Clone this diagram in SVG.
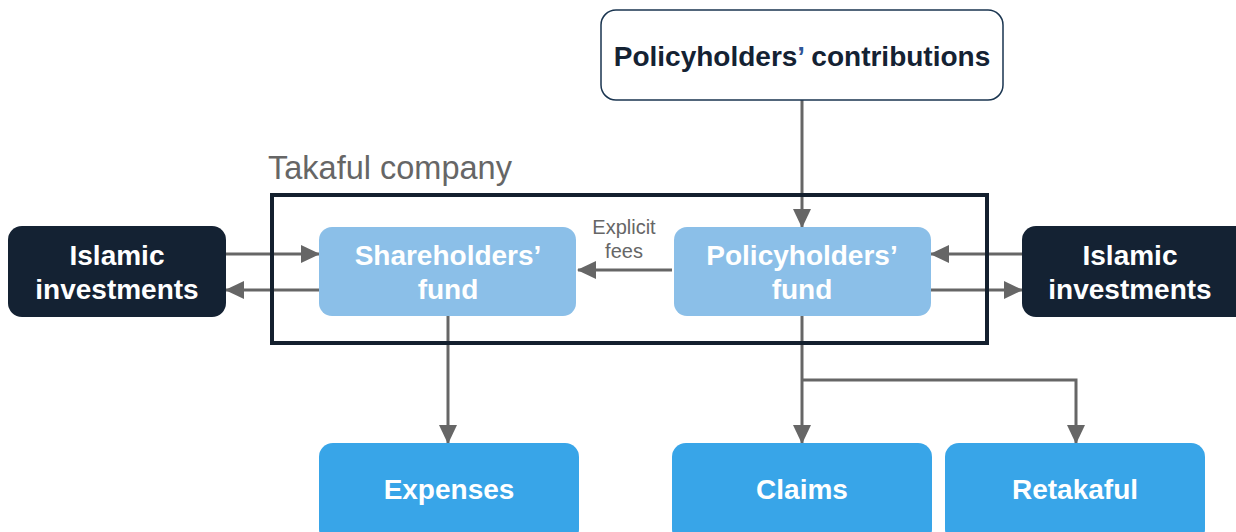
<svg xmlns="http://www.w3.org/2000/svg" width="1236" height="532" viewBox="0 0 1236 532">
<style>
.t{font-family:"Liberation Sans",Arial,sans-serif;font-weight:bold;text-anchor:middle}
.w{fill:#ffffff;font-size:28px}
.c{fill:none;stroke:#666666;stroke-width:3}
.fund{fill:#8bbfe8}
.out{fill:#38a5e8}
.inv{fill:#142233}
.g{font-family:"Liberation Sans",Arial,sans-serif;fill:#666666}
</style>
<defs>
<marker id="ah" markerUnits="userSpaceOnUse" markerWidth="20" markerHeight="20" viewBox="0 0 20 20" refX="18" refY="10" orient="auto">
<path d="M0,1 L19,10 L0,19 Z" fill="#666666"/>
</marker>
</defs>
<rect width="1236" height="532" fill="#ffffff"/>
<g id="connectors">
<path class="c" d="M802,100 V227" marker-end="url(#ah)"/>
<path class="c" d="M226,254 H319" marker-end="url(#ah)"/>
<path class="c" d="M319,290 H226" marker-end="url(#ah)"/>
<path class="c" d="M1022,254 H931" marker-end="url(#ah)"/>
<path class="c" d="M931,290 H1022" marker-end="url(#ah)"/>
<path class="c" d="M672,270 H578" marker-end="url(#ah)"/>
<path class="c" d="M448,316 V443" marker-end="url(#ah)"/>
<path class="c" d="M802,316 V443" marker-end="url(#ah)"/>
<path class="c" d="M802,380 H1076 V443" marker-end="url(#ah)"/>
</g>
<g id="company">
<rect x="272" y="195" width="715" height="148" fill="none" stroke="#14202e" stroke-width="4"/>
<text class="g" x="268" y="179" font-size="32.5">Takaful company</text>
</g>
<g id="contributions">
<rect x="601" y="10" width="402" height="90" rx="15" fill="#ffffff" stroke="#1a3550" stroke-width="1.5"/>
<text class="t" x="802" y="66" font-size="28" fill="#142233">Policyholders<tspan fill="#2f5597">’</tspan> contributions</text>
</g>
<g id="shareholders-fund">
<rect class="fund" x="319" y="227" width="257" height="89" rx="13"/>
<text class="t w" x="448" y="265">Shareholders’</text>
<text class="t w" x="448" y="299">fund</text>
</g>
<g id="policyholders-fund">
<rect class="fund" x="674" y="227" width="257" height="89" rx="13"/>
<text class="t w" x="802" y="265">Policyholders’</text>
<text class="t w" x="802" y="299">fund</text>
</g>
<g id="fees-label">
<text class="g" x="624" y="234" font-size="20" text-anchor="middle">Explicit</text>
<text class="g" x="624" y="258" font-size="20" text-anchor="middle">fees</text>
</g>
<g id="investments-left">
<rect class="inv" x="8" y="226" width="218" height="91" rx="14"/>
<text class="t w" x="117" y="265">Islamic</text>
<text class="t w" x="117" y="299">investments</text>
</g>
<g id="investments-right">
<rect class="inv" x="1022" y="226" width="228" height="91" rx="14"/>
<text class="t w" x="1130" y="265">Islamic</text>
<text class="t w" x="1130" y="299">investments</text>
</g>
<g id="expenses">
<rect class="out" x="319" y="443" width="260" height="100" rx="14"/>
<text class="t w" x="449" y="499">Expenses</text>
</g>
<g id="claims">
<rect class="out" x="672" y="443" width="260" height="100" rx="14"/>
<text class="t w" x="802" y="499">Claims</text>
</g>
<g id="retakaful">
<rect class="out" x="945" y="443" width="260" height="100" rx="14"/>
<text class="t w" x="1075" y="499">Retakaful</text>
</g>
</svg>
